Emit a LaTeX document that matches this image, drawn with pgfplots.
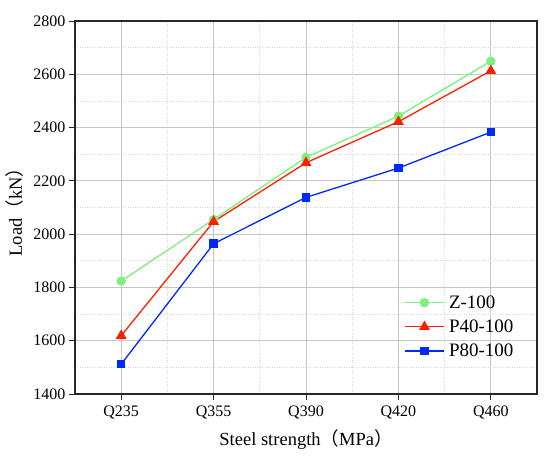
\documentclass[border=0pt]{standalone}
\usepackage{fontspec}
\setmainfont{Liberation Serif}
\newfontfamily\cjk{Noto Sans CJK SC}
\usepackage{pgfplots}
\pgfplotsset{compat=1.18}
\definecolor{cgreen}{RGB}{125,240,125}
\definecolor{cred}{RGB}{255,30,0}
\definecolor{cblue}{RGB}{0,40,255}
\begin{document}
\begin{tikzpicture}
\begin{axis}[
  scale only axis,
  width=462pt, height=373pt,
  xmin=-0.5, xmax=4.5,
  ymin=1400, ymax=2800,
  xtick={0,1,2,3,4},
  xticklabels={Q235,Q355,Q390,Q420,Q460},
  ytick={1400,1600,...,2800},
  minor xtick={0.5,1.5,2.5,3.5},
  minor ytick={1500,1700,...,2700},
  xtick pos=left, ytick pos=left,
  tick align=outside,
  major tick length=6pt,
  minor tick length=0pt,
  tick style={black!85, line width=0.9pt},
  grid=both,
  major grid style={gray!45, line width=0.8pt},
  minor grid style={gray!30, dotted, line width=0.7pt},
  axis line style={black!85, line width=1.1pt},
  /pgf/number format/assume math mode=true,
  /pgf/number format/1000 sep={},
  tick label style={font=\fontsize{16}{19}\selectfont},
  xticklabel style={yshift=-2pt},
  label style={font=\fontsize{18.5}{22}\selectfont},
  xlabel={Steel strength{\cjk （}MPa{\cjk ）}},
  ylabel={Load{\cjk （}kN{\cjk ）}},
  xlabel style={yshift=-4pt},
  ylabel style={yshift=3pt},
  legend style={draw=none, fill=none, at={(0.705,0.275)}, anchor=north west,
    font=\fontsize{19}{23}\selectfont, row sep=6pt,
    nodes={inner xsep=4pt}},
  legend cell align=left,
  legend image code/.code={
    \draw[mark repeat=2,mark phase=2,#1] plot coordinates {(0cm,0cm) (0.7cm,0cm) (1.4cm,0cm)};},
]
\addplot[cgreen, line width=1.3pt, mark=*, mark size=4pt, mark options={solid, fill=cgreen, draw=cgreen}]
  coordinates {(0,1824) (1,2055) (2,2288) (3,2443) (4,2649)};
\addlegendentry{Z-100}
\addplot[cred, line width=1.3pt, mark=triangle*, mark size=5pt, mark options={solid, fill=cred, draw=cred}]
  coordinates {(0,1619) (1,2047) (2,2268) (3,2422) (4,2613)};
\addlegendentry{P40-100}
\addplot[cblue, line width=1.3pt, mark=square*, mark size=3.6pt, mark options={solid, fill=cblue, draw=cblue}]
  coordinates {(0,1512) (1,1964) (2,2138) (3,2248) (4,2383)};
\addlegendentry{P80-100}
\end{axis}
\path ([shift={(-75pt,-66pt)}]current axis.south west) rectangle ([shift={(13pt,21pt)}]current axis.north east);
\end{tikzpicture}
\end{document}
